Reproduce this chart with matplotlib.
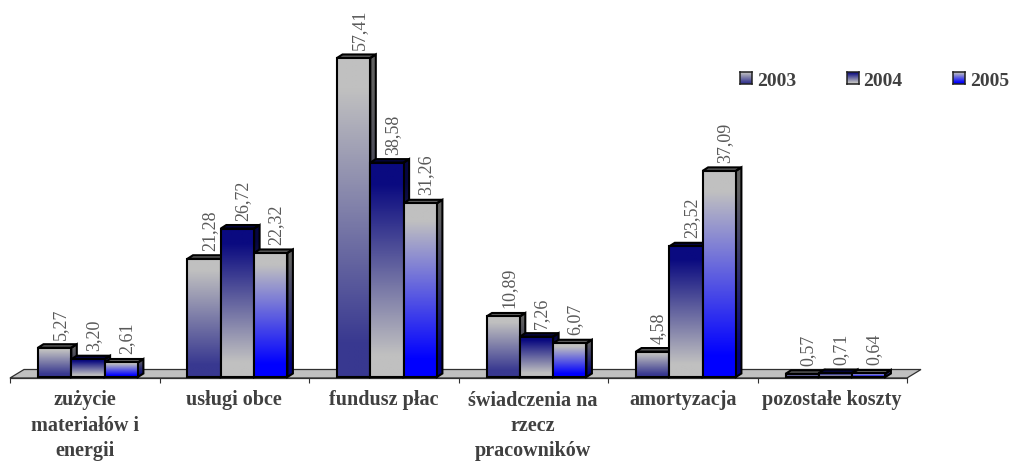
import numpy as np
import matplotlib
matplotlib.use("Agg")
import matplotlib.pyplot as plt
from matplotlib.colors import to_rgb
from matplotlib.patches import Polygon

plt.rcParams['font.family'] = ['Liberation Serif', 'DejaVu Serif']

kategorie = ["zużycie\nmateriałów i\nenergii", "usługi obce", "fundusz płac",
             "świadczenia na\nrzecz\npracowników", "amortyzacja", "pozostałe koszty"]
lata = ["2003", "2004", "2005"]
v2003 = [5.27, 21.28, 57.41, 10.89, 4.58, 0.57]
v2004 = [3.20, 26.72, 38.58, 7.26, 23.52, 0.71]
v2005 = [2.61, 22.32, 31.26, 6.07, 37.09, 0.64]
serie = [v2003, v2004, v2005]

# kolor gora / dol kazdej serii
gora = ["#c0c0c0", "#0a0a80", "#c0c0c0"]
dol = ["#383890", "#c0c0c0", "#0000ff"]

W, H = 1009, 463
fig = plt.figure(figsize=(W / 100, H / 100), dpi=100)
ax = fig.add_axes([10 / W, (H - 378) / H, 897 / W, 378 / H])

px_x = 6 / 897      # dane na piksel, os x
px_y = 1 / 5.557    # dane na piksel, os y
ax.set_xlim(0, 6)
ax.set_ylim(-px_y, 377 * px_y)


def rampa(c1, c2, n=128):
    # gradient trzyma kolor na koncach, jak w oryginale
    t = np.clip((np.linspace(0, 1, n) - 0.1) / 0.8, 0, 1)[:, None]
    return (np.array(to_rgb(c1)) * (1 - t) + np.array(to_rgb(c2)) * t)[:, None, :]


def gradient(verts, c1, c2, z, mnoznik=1.0):
    # wielokat z pionowym gradientem i czarna obwodka
    img = rampa(c1, c2) * mnoznik
    xs = [v[0] for v in verts]
    ys = [v[1] for v in verts]
    im = ax.imshow(img, extent=[min(xs), max(xs), min(ys), max(ys)], origin='upper',
                   aspect='auto', zorder=z, clip_on=True)
    p = Polygon(verts, closed=True, fc='none', ec='black', lw=1.5, zorder=z + 0.1, clip_on=False)
    ax.add_patch(p)
    im.set_clip_path(p)


# podloga
gl_x = 14 * px_x
gl_y = 7.5 * px_y
podloga = Polygon([(0, -px_y), (6, -px_y), (6 + gl_x, gl_y), (gl_x, gl_y)], closed=True,
                  fc='#c0c0c0', ec='#303030', lw=0.9, zorder=1, clip_on=False)
ax.add_patch(podloga)

szer = 33.3 * px_x
start = 28 * px_x
dx = 5.5 * px_x
dy = 3.5 * px_y

for i in range(len(kategorie)):
    for s, wart in enumerate(serie):
        h = wart[i]
        x0 = i + start + s * szer
        x1 = x0 + szer
        z = 3 + i + s * 0.3
        # bok i gorna sciana
        gradient([(x1, 0), (x1 + dx, dy), (x1 + dx, h + dy), (x1, h)], gora[s], dol[s], z, 0.5)
        gradient([(x0, h), (x1, h), (x1 + dx, h + dy), (x0 + dx, h + dy)], gora[s], gora[s], z, 0.5)
        gradient([(x0, 0), (x1, 0), (x1, h), (x0, h)], gora[s], dol[s], z + 0.15)
        ax.annotate(f"{h:.2f}".replace(".", ","), (x0 + szer / 2, h), xytext=(5.5, 8),
                    textcoords='offset pixels', rotation=90, ha='center', va='bottom',
                    fontsize=13, color='#595959', zorder=20, annotation_clip=False)

ax.set_xlim(0, 6)
ax.set_ylim(-px_y, 377 * px_y)

for nazwa in ['top', 'left', 'right']:
    ax.spines[nazwa].set_visible(False)
ax.spines['bottom'].set_color('#303030')
ax.spines['bottom'].set_linewidth(0.9)
ax.set_yticks([])
ax.set_xticks(range(7))
ax.set_xticklabels([])
ax.tick_params(axis='x', which='major', length=3.6, width=0.8, color='#303030')
ax.set_xticks(np.arange(6) + 0.5, minor=True)
ax.set_xticklabels(kategorie, minor=True, fontsize=14.5, fontweight='bold', color='#404040',
                   linespacing=1.36)
ax.tick_params(axis='x', which='minor', length=0, pad=9)

# legenda
for s, rok in enumerate(lata):
    lx = 740 + s * 106.5
    lax = fig.add_axes([lx / W, (H - 84) / H, 12 / W, 12 / H])
    lax.imshow(rampa(gora[s], dol[s], 32), aspect='auto')
    lax.set_xticks([])
    lax.set_yticks([])
    for sp in lax.spines.values():
        sp.set_linewidth(1.1)
        sp.set_color('#202020')
    fig.text((lx + 17) / W, (H - 86.5) / H, rok, fontsize=14, fontweight='bold',
             color='#404040', ha='left', va='baseline')

fig.savefig("out.png", dpi=100)
